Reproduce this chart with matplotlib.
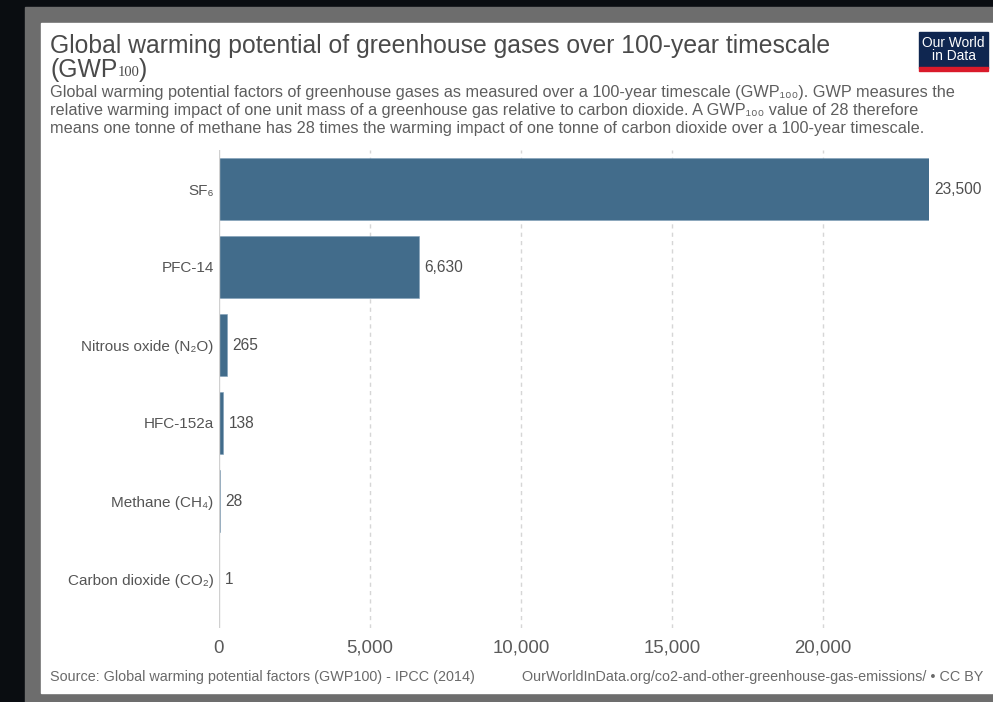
import numpy as np
import matplotlib.pyplot as plt
from matplotlib.patches import Rectangle

plt.rcParams['font.family'] = ['Liberation Sans', 'DejaVu Sans']

# GWP100 factors (IPCC 2014)
gases = ['SF₆', 'PFC-14', 'Nitrous oxide (N₂O)', 'HFC-152a', 'Methane (CH₄)', 'Carbon dioxide (CO₂)']
gwp = [23500, 6630, 265, 138, 28, 1]
xticks = [0, 5000, 10000, 15000, 20000]

W, H = 993, 702
fig = plt.figure(figsize=(W / 100, H / 100), dpi=100)
fig.patch.set_facecolor('#0a0d11')

def px(x0, y0, x1, y1):
    # pixel box (top-left origin) -> figure fraction
    return [x0 / W, 1 - y1 / H, (x1 - x0) / W, (y1 - y0) / H]

# grey frame and white card
bg = fig.add_axes([0, 0, 1, 1])
bg.set_xlim(0, W)
bg.set_ylim(H, 0)
bg.axis('off')
bg.add_patch(Rectangle((25, 7), W - 25, H - 7, color='#6d6d6d'))
bg.add_patch(Rectangle((41, 23), W - 41, 693 - 23, color='white'))

# logo
bg.add_patch(Rectangle((919, 32), 69, 36, color='#0f2650'))
bg.add_patch(Rectangle((919, 67), 69, 4, color='#d91a2a'))
bg.text(953.5, 49.5, 'Our World\nin Data', color='white', fontsize=9.9,
        ha='center', va='center', linespacing=0.9)

# title and subtitle
tc = '#4a4a4a'
bg.text(50, 46, 'Global warming potential of greenhouse gases over 100-year timescale',
        fontsize=17.8, color=tc, va='center')
t2 = bg.text(50, 70, '(GWP', fontsize=17.8, color=tc, va='center')
t3 = bg.annotate('100', xy=(1, 0.12), xycoords=t2, fontsize=10.5, color=tc,
                 va='bottom', ha='left', family='Liberation Serif')
bg.annotate(')', xy=(1, 0), xycoords=t3, xytext=(0, -2.2), textcoords='offset points',
            fontsize=17.8, color=tc, va='bottom', ha='left')

sub_lines = [
    'Global warming potential factors of greenhouse gases as measured over a 100-year timescale (GWP₁₀₀). GWP measures the',
    'relative warming impact of one unit mass of a greenhouse gas relative to carbon dioxide. A GWP₁₀₀ value of 28 therefore',
    'means one tonne of methane has 28 times the warming impact of one tonne of carbon dioxide over a 100-year timescale.',
]
for i, line in enumerate(sub_lines):
    bg.text(50, 92 + 18 * i, line, fontsize=11.7, color='#5e5e5e', va='center')

# footer
bg.text(50, 677, 'Source: Global warming potential factors (GWP100) - IPCC (2014)',
        fontsize=10.35, color='#6a6a6a', va='center')
bg.text(983, 677, 'OurWorldInData.org/co2-and-other-greenhouse-gas-emissions/ • CC BY',
        fontsize=10.35, color='#6a6a6a', va='center', ha='right')

# bar chart
ax = fig.add_axes(px(219, 150, 929, 628))
ax.set_facecolor('none')
y = np.arange(len(gases))
ax.barh(y, gwp, height=0.8, color='#426c8b', edgecolor='#7f9fb8', linewidth=0.4, zorder=3)
ax.set_xlim(0, 23500)
ax.set_ylim(5.5 + 10 / 78, -0.5)

for v in xticks[1:]:
    ax.axvline(v, color='#d6d6d6', lw=1, ls=(0, (3, 3)), zorder=1)
ax.axvline(0, color='#d0d0d0', lw=1, zorder=4)

for yi, v in zip(y, gwp):
    ax.text(v + 180, yi, f'{v:,}', fontsize=11.2, color='#4f4f4f', va='center', ha='left')

ax.set_yticks(y)
ax.set_yticklabels(gases, fontsize=11, color='#555555')
ax.set_xticks(xticks)
ax.set_xticklabels([f'{v:,}' for v in xticks], fontsize=13.4, color='#5a5a5a')
ax.tick_params(axis='both', length=0)
ax.tick_params(axis='y', pad=3.8)
ax.tick_params(axis='x', pad=8.5)
for s in ax.spines.values():
    s.set_visible(False)

fig.savefig('out.png', dpi=100)
